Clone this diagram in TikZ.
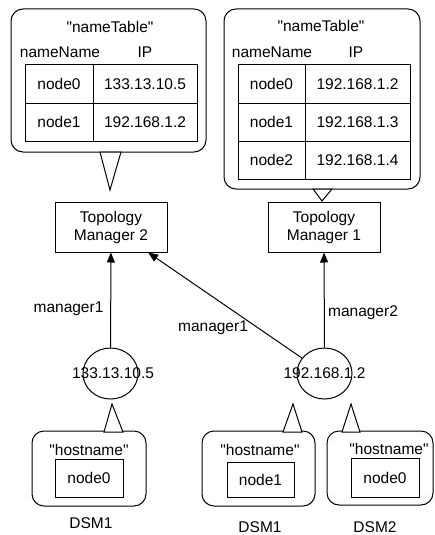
\documentclass[tikz,border=0pt]{standalone}
\usepackage{fontspec}
\setmainfont{Liberation Sans}[Ligatures=TeXOff]
\usetikzlibrary{arrows.meta,shapes.geometric}
\begin{document}
\begin{tikzpicture}[x=1pt,y=-1pt,line width=1pt,
  every node/.style={font=\fontsize{15.5}{18}\selectfont, inner sep=0pt},
  callout/.style={draw, rounded corners=12pt},
  boxn/.style={draw, align=center},
  ipc/.style={draw, ellipse, minimum width=55pt, minimum height=51pt},
  arr/.style={-{Triangle[length=10pt,width=8pt]}},
  txt/.style={anchor=center}]
\useasboundingbox (0,0) rectangle (434,535);
% ---- left name table callout
\draw[callout] (11,9) rectangle (206,152);
\draw[fill=white] (100,152) -- (110,190) -- (121,152) -- cycle;
\node[txt] (lt) at (110,27) {"nameTable"};
\node[txt] (lh1) at (60,52) {nameName};
\node[txt] (lh2) at (145,52) {IP};
\draw (25,65) rectangle (197,141);
\draw (25,103) -- (197,103);
\draw (93,65) -- (93,141);
\node[txt] (la1) at (59,84) {node0};
\node[txt] (la2) at (145,84) {133.13.10.5};
\node[txt] (lb1) at (59,122) {node1};
\node[txt] (lb2) at (145,122) {192.168.1.2};
% ---- right name table callout
\draw[callout] (224,9) rectangle (420,189);
\draw[fill=white] (313,189) -- (322,201) -- (332,189) -- cycle;
\node[txt] (rt) at (321,26) {"nameTable"};
\node[txt] (rh1) at (272,52) {nameName};
\node[txt] (rh2) at (356,52) {IP};
\draw (238,65) rectangle (410,179);
\draw (238,103) -- (410,103);
\draw (238,141) -- (410,141);
\draw (305,65) -- (305,179);
\node[txt] (ra1) at (271.5,84) {node0};
\node[txt] (ra2) at (357.5,84) {192.168.1.2};
\node[txt] (rb1) at (271.5,122) {node1};
\node[txt] (rb2) at (357.5,122) {192.168.1.3};
\node[txt] (rc1) at (271.5,160) {node2};
\node[txt] (rc2) at (357.5,160) {192.168.1.4};
% ---- topology managers
\node[boxn, minimum width=112pt, minimum height=50pt] (tm2) at (111,227) {Topology\\Manager 2};
\node[boxn, minimum width=112pt, minimum height=50pt] (tm1) at (324,227) {Topology\\Manager 1};
% ---- ip circles
\node[ipc] (c1) at (110.5,373.5) {};
\node[ipc] (c2) at (324.5,373.5) {};
\node[txt] (c1t) at (113,373) {133.13.10.5};
\node[txt] (c2t) at (324.5,373) {192.168.1.2};
% ---- arrows
\draw[arr] (c1) -- (tm2);
\draw[arr] (c2) -- (tm1);
\draw[arr] (c2) -- (tm2);
\node[txt] (m1) at (68.5,309) {manager1};
\node[txt] (m2) at (213,328) {manager1};
\node[txt] (m3) at (363,313) {manager2};
% ---- host callouts
\draw[callout] (32,431) rectangle (146,506);
\draw[callout] (202,431) rectangle (315,506);
\draw[callout] (327,431) rectangle (433,505);
\draw[fill=white] (104,432) -- (112,404) -- (123,432) -- cycle;
\draw[fill=white] (283,432) -- (293,404) -- (302,432) -- cycle;
\draw[fill=white] (342,432) -- (351,404) -- (360,432) -- cycle;
\node[txt] (h1) at (89,450) {"hostname"};
\node[txt] (h2) at (260,450) {"hostname"};
\node[txt] (h3) at (389,449) {"hostname"};
\node[boxn, minimum width=68pt, minimum height=38pt] (n1) at (89,478) {node0};
\node[boxn, minimum width=67pt, minimum height=35pt] (n2) at (260.5,479.5) {node1};
\node[boxn, minimum width=68pt, minimum height=39pt] (n3) at (385,477.5) {node0};
% ---- labels
\node[txt] (d1) at (91,523) {DSM1};
\node[txt] (d2) at (260,527) {DSM1};
\node[txt] (d3) at (375,527) {DSM2};
\end{tikzpicture}
\end{document}
